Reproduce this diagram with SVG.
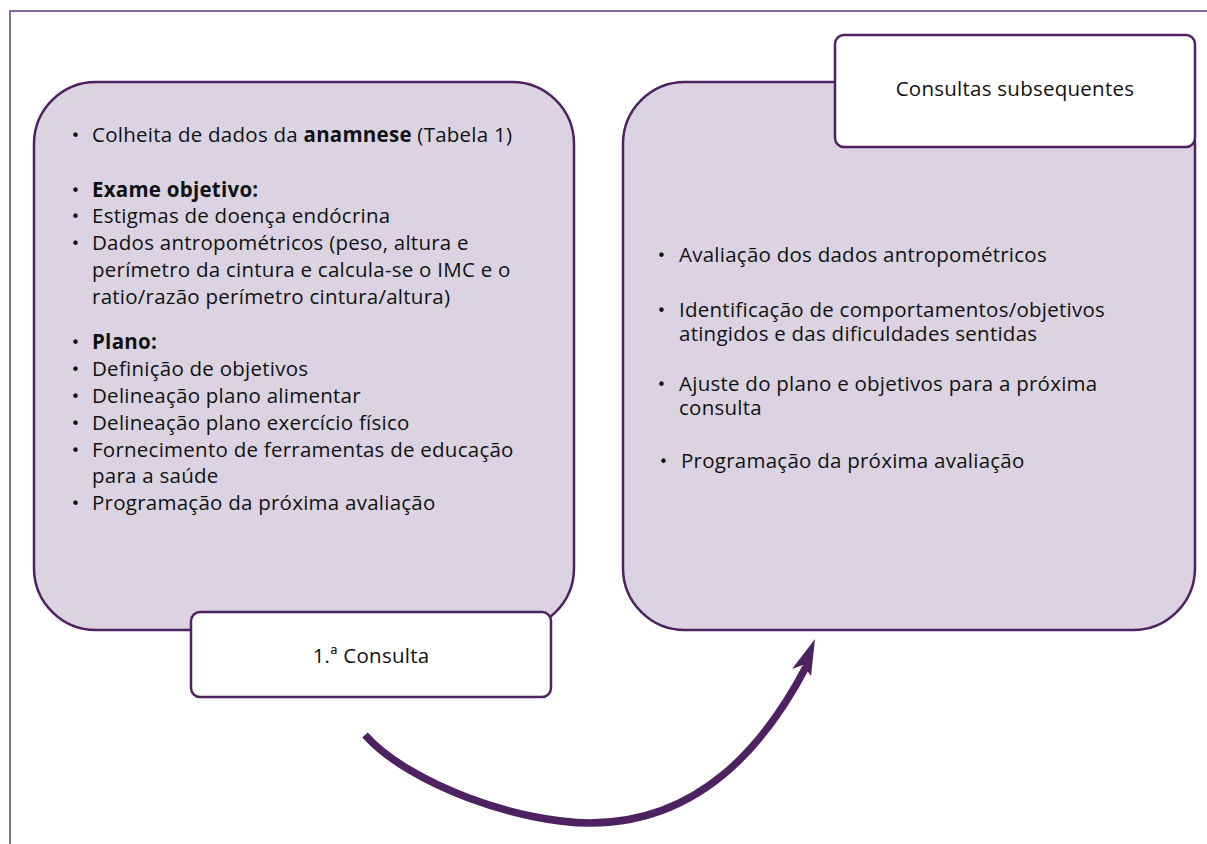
<svg xmlns="http://www.w3.org/2000/svg" width="1207" height="844" viewBox="0 0 1207 844">
<defs>
<style>
.frame{fill:none;stroke:#5e3b78;stroke-width:1.5}
.big{fill:#dbd3e1;stroke:#4e2160;stroke-width:2.5}
.lbl{fill:#ffffff;stroke:#4e2160;stroke-width:2.5}
text{font-family:"Open Sans","Noto Sans","DejaVu Sans",sans-serif;font-size:20.5px;letter-spacing:0.25px;fill:#111111}
.b{font-weight:bold}
.bul{font-family:"DejaVu Sans",sans-serif;font-size:15px;letter-spacing:0}
.mid{text-anchor:middle}
.conn{fill:none;stroke:#4e2160;stroke-width:7.5}
.head{fill:#4e2160}
</style>
</defs>
<rect width="1207" height="844" fill="#ffffff"/>
<path class="frame" d="M10,844 L10,11 L1207,11"/>

<g id="node-first">
<rect class="big" x="34" y="82" width="540" height="548" rx="62" ry="62"/>
<g>
<text class="bul" x="71" y="141">•</text><text x="92" y="142">Colheita de dados da <tspan class="b">anamnese</tspan> (Tabela 1)</text>
<text class="bul" x="71" y="196">•</text><text class="b" x="92" y="197">Exame objetivo:</text>
<text class="bul" x="71" y="222">•</text><text x="92" y="223">Estigmas de doença endócrina</text>
<text class="bul" x="71" y="249">•</text><text x="92" y="250">Dados antropométricos (peso, altura e</text>
<text x="92" y="277">perímetro da cintura e calcula-se o IMC e o</text>
<text x="92" y="304">ratio/razão perímetro cintura/altura)</text>
<text class="bul" x="71" y="348">•</text><text class="b" x="92" y="349">Plano:</text>
<text class="bul" x="71" y="375">•</text><text x="92" y="376">Definição de objetivos</text>
<text class="bul" x="71" y="402">•</text><text x="92" y="403">Delineação plano alimentar</text>
<text class="bul" x="71" y="429">•</text><text x="92" y="430">Delineação plano exercício físico</text>
<text class="bul" x="71" y="456">•</text><text x="92" y="457">Fornecimento de ferramentas de educação</text>
<text x="92" y="483">para a saúde</text>
<text class="bul" x="71" y="509">•</text><text x="92" y="510">Programação da próxima avaliação</text>
</g>
</g>

<g id="node-next">
<rect class="big" x="623" y="82" width="572" height="548" rx="62" ry="62"/>
<text class="bul" x="657" y="261">•</text><text x="679" y="262">Avaliação dos dados antropométricos</text>
<text class="bul" x="657" y="316">•</text><text x="679" y="317">Identificação de comportamentos/objetivos</text>
<text x="679" y="341">atingidos e das dificuldades sentidas</text>
<text class="bul" x="657" y="390">•</text><text x="679" y="391">Ajuste do plano e objetivos para a próxima</text>
<text x="679" y="415">consulta</text>
<text class="bul" x="659" y="467">•</text><text x="681" y="468">Programação da próxima avaliação</text>
</g>

<g id="label-first">
<rect class="lbl" x="191" y="612" width="360" height="85" rx="9" ry="9"/>
<text class="mid" x="371" y="663">1.ª Consulta</text>
</g>

<g id="label-next">
<rect class="lbl" x="835" y="35" width="360" height="112" rx="9" ry="9"/>
<text class="mid" x="1015" y="96">Consultas subsequentes</text>
</g>

<g id="connectors">
<path class="conn" d="M365,735 C410,785 520,823 590,823 C700,823 765,745 806,667"/>
<polygon class="head" points="815,639 792,669 803,665 811,676"/>
</g>
</svg>
